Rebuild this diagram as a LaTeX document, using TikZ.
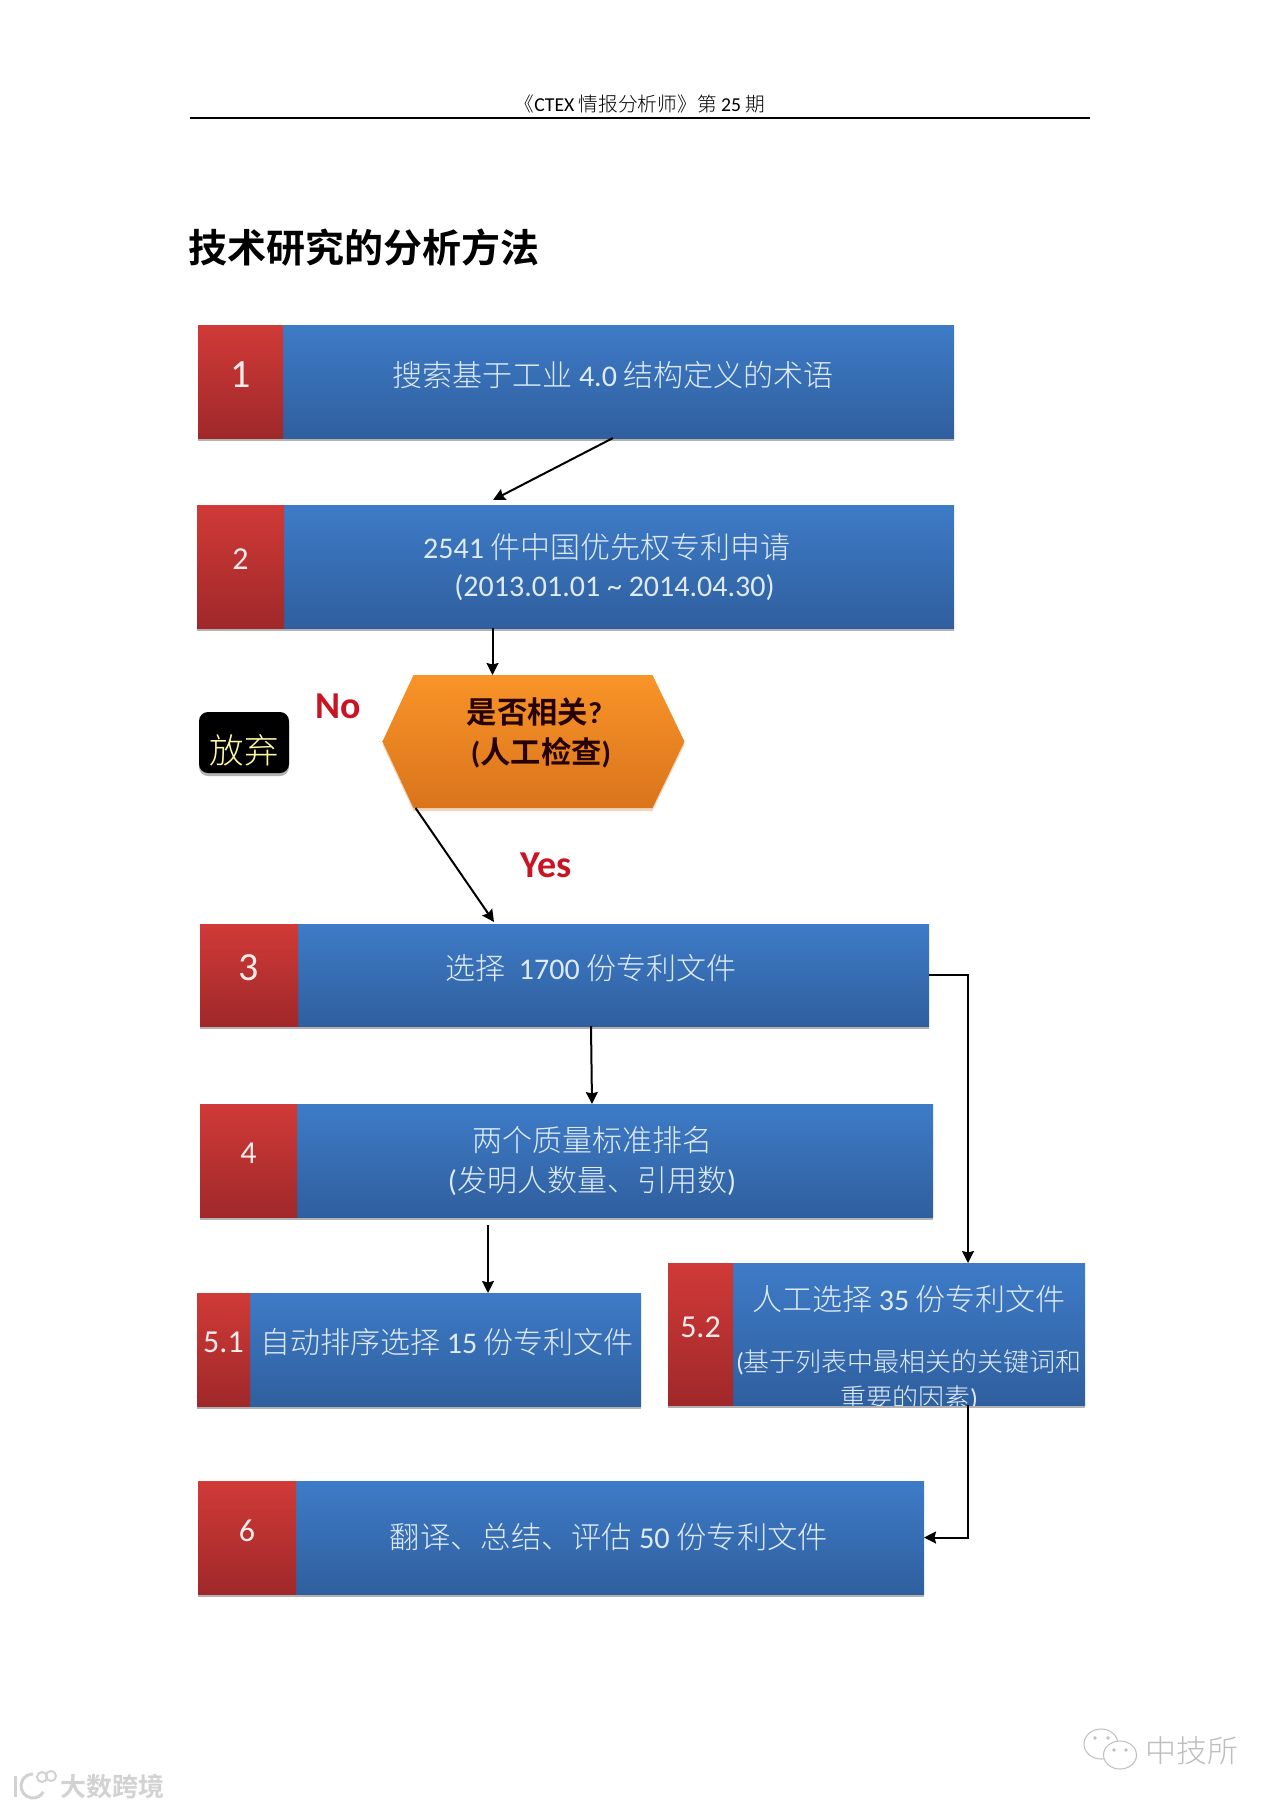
\documentclass[tikz,border=0pt]{standalone}
\usepackage{fontspec}
\usepackage{xcolor}
\usetikzlibrary{arrows.meta,positioning,shadows}
\setmainfont{Carlito}
\newfontfamily\cjk[UprightFont=* Light, BoldFont=* Bold]{Noto Sans CJK SC}
\definecolor{bluetop}{RGB}{62, 123, 199}
\definecolor{bluebot}{RGB}{47, 95, 158}
\definecolor{redtop}{RGB}{208, 58, 55}
\definecolor{redbot}{RGB}{160, 40, 42}
\definecolor{orangetop}{RGB}{248, 148, 40}
\definecolor{orangebot}{RGB}{218, 116, 28}
\definecolor{boxtext}{RGB}{222, 235, 246}
\definecolor{signred}{RGB}{200, 20, 35}
\definecolor{marktext}{RGB}{190, 190, 190}
\tikzset{
  softshadow/.style={drop shadow={shadow xshift=0pt, shadow yshift=-3pt, opacity=0.3, fill=#1}},
  bluebox/.style={shade, top color=bluetop, bottom color=bluebot, inner sep=0pt, outer sep=0pt, softshadow=black},
  redbox/.style={shade, top color=redtop, bottom color=redbot, inner sep=0pt, outer sep=0pt, softshadow=black,
    text=white!92!red, text depth=14pt, font=\fontsize{32pt}{38pt}\selectfont},
  boxlabel/.style={text=boxtext, align=center, inner sep=0pt, font=\fontsize{30pt}{38pt}\selectfont},
  signlabel/.style={text=signred, inner sep=0pt, font=\fontsize{38pt}{42pt}\selectfont\bfseries},
  marklabel/.style={text=marktext, inner sep=0pt},
  flow/.style={->, line width=2pt, black}
}

\begin{document}
\begin{tikzpicture}[x=1pt, y=-1pt, >={Stealth[length=12pt, width=12pt, inset=1.5pt]}]
  \useasboundingbox[fill=white] (0, 0) rectangle (1280, 1809);

  % page head
  \node[inner sep=0pt, font=\fontsize{19.7pt}{22pt}\selectfont] (head) at (640, 104) {{\cjk 《}CTEX {\cjk 情报分析师》第} 25 {\cjk 期}};
  \draw[line width=2pt] (190, 118.5) -- (1090, 118.5);
  \node[anchor=west, inner sep=0pt, font=\fontsize{39pt}{44pt}\selectfont\bfseries] (title) at (188, 248) {\cjk 技术研究的分析方法};

  % step 1
  \node[bluebox, minimum width=671pt, minimum height=113pt] (b1) at (618.5, 381.5) {};
  \node[redbox, minimum width=85pt, minimum height=113pt, left=0pt of b1, font=\fontsize{40pt}{44pt}\selectfont] (r1) {1};
  \node[boxlabel] (t1) at (613, 375) {{\cjk 搜索基于工业} 4.0 {\cjk 结构定义的术语}};

  % step 2
  \node[bluebox, minimum width=670pt, minimum height=123pt] (b2) at (619, 566.5) {};
  \node[redbox, minimum width=87pt, minimum height=123pt, left=0pt of b2] (r2) {2};
  \node[boxlabel] (t2) at (614.5, 567) {\hspace*{-15pt}2541 {\cjk 件中国优先权专利申请}\\(2013.01.01 \textasciitilde{} 2014.04.30)};

  % check
  \node[inner sep=0pt, outer sep=0pt, minimum width=302pt, minimum height=133pt] (h) at (533.5, 741.5) {};
  \path[shade, top color=orangetop, bottom color=orangebot, softshadow=orangebot]
    (h.west) -- ([xshift=31pt]h.north west) -- ([xshift=-32pt]h.north east) -- (h.east)
    -- ([xshift=-32pt]h.south east) -- ([xshift=31pt]h.south west) -- cycle;
  \node[align=center, inner sep=0pt, text=black!85!red, font=\fontsize{30.3pt}{40pt}\selectfont\bfseries] (t) at (541, 733) {\hspace*{-13pt}{\cjk 是否相关}?\\({\cjk 人工检查})};
  \node[rounded corners=9pt, fill=black, minimum width=90pt, minimum height=61pt, inner sep=0pt, softshadow=black,
    text=yellow!35!white, text height=46pt, text depth=4pt, font=\fontsize{34.5pt}{36pt}\selectfont] (q) at (244, 742.5) {\cjk 放弃};
  \node[signlabel] (no) at (338, 706) {No};
  \node[signlabel] (yes) at (546, 865) {Yes};

  % step 3
  \node[bluebox, minimum width=631pt, minimum height=102pt] (b3) at (613.5, 975) {};
  \node[redbox, minimum width=98pt, minimum height=102pt, left=0pt of b3, font=\fontsize{40pt}{44pt}\selectfont] (r3) {3};
  \node[boxlabel] (t3) at (591, 968) {{\cjk 选择}\ \ 1700 {\cjk 份专利文件}};

  % step 4
  \node[bluebox, minimum width=636pt, minimum height=113pt] (b4) at (615, 1160.5) {};
  \node[redbox, minimum width=97pt, minimum height=113pt, left=0pt of b4] (r4) {4};
  \node[boxlabel, font=\fontsize{30pt}{40pt}\selectfont] (t4) at (592, 1161) {\cjk 两个质量标准排名\\({\cjk 发明人数量、引用数})};

  % step 5.1
  \node[bluebox, minimum width=391pt, minimum height=113pt] (b51) at (445.5, 1349.5) {};
  \node[redbox, minimum width=53pt, minimum height=113pt, left=0pt of b51] (r51) {5.1};
  \node[boxlabel] (t51) at (447, 1342) {{\cjk 自动排序选择} 15 {\cjk 份专利文件}};

  % step 5.2
  \node[bluebox, minimum width=352pt, minimum height=142pt] (b52) at (909, 1334) {};
  \node[redbox, minimum width=65pt, minimum height=142pt, left=0pt of b52] (r52) {5.2};
  \node[boxlabel] (t52) at (909, 1299) {{\cjk 人工选择} 35 {\cjk 份专利文件}};
  \begin{scope}
    \clip (b52.north west) rectangle (b52.south east);
    \node[boxlabel, font=\fontsize{26pt}{36pt}\selectfont] (n52) at (909, 1380) {({\cjk 基于列表中最相关的关键词和}\\{\cjk 重要的因素})};
  \end{scope}

  % step 6
  \node[bluebox, minimum width=628pt, minimum height=113pt] (b6) at (610, 1537.5) {};
  \node[redbox, minimum width=98pt, minimum height=113pt, left=0pt of b6] (r6) {6};
  \node[boxlabel, font=\fontsize{30.3pt}{38pt}\selectfont] (t6) at (609, 1537) {{\cjk 翻译、总结、评估} 50 {\cjk 份专利文件}};

  % connectors
  \draw[flow] ([xshift=-5.5pt]b1.south) -- ([xshift=-126pt, yshift=5pt]b2.north);
  \draw[flow] ([xshift=-126.5pt]b2.south) -- ([xshift=-41pt]h.north);
  \draw[flow] ([xshift=-118pt]h.south) -- ([xshift=-119.5pt, yshift=2pt]b3.north);
  \draw[flow] ([xshift=-22.5pt]b3.south) -- ([xshift=-23pt]b4.north);
  \draw[flow] ([xshift=-127pt, yshift=-8pt]b4.south) -- ([xshift=42.5pt]b51.north);
  \draw[flow] (b3.east) -| ([xshift=59pt]b52.north);
  \draw[flow] ([xshift=59pt]b52.south) |- (b6.east);

  % marks in the corners
  \node[marklabel, font=\fontsize{31pt}{34pt}\selectfont] (m1) at (1192, 1751) {\cjk 中技所};
  \draw[marktext, line width=1pt, fill=white] (1101, 1744) ellipse (17pt and 15pt);
  \draw[marktext, line width=1pt, fill=white] (1120, 1755) ellipse (16.5pt and 14pt);
  \foreach \px/\py in {1095/1738, 1108/1738, 1114/1750, 1126/1750}
    \fill[marktext] (\px, \py) circle (1.8pt);
  \node[marklabel, text=marktext!70!white, font=\fontsize{26pt}{30pt}\selectfont\bfseries] (m2) at (112, 1787) {\cjk 大数跨境};
  \draw[marktext!70!white, line width=3pt] (15, 1776) -- (15, 1797);
  \draw[marktext!70!white, line width=3pt] (43.4, 1792) arc (30:270:12);
  \draw[marktext!70!white, line width=2pt] (42, 1777) circle (5pt);
  \draw[marktext!70!white, line width=2pt] (51, 1776) circle (5pt);
\end{tikzpicture}
\end{document}
